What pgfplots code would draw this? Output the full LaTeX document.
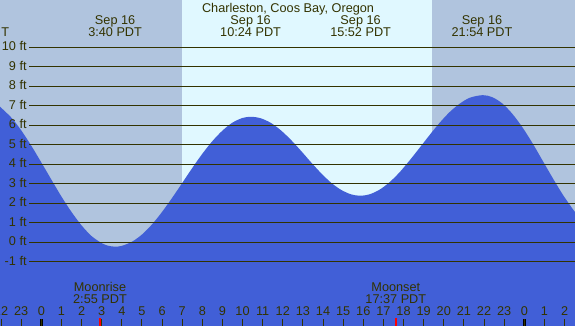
\documentclass[border=0pt]{standalone}
\usepackage{fontspec}
\setmainfont{Liberation Sans}
\usepackage{pgfplots}
\pgfplotsset{compat=1.18}
\definecolor{night}{RGB}{176,196,222}
\definecolor{day}{RGB}{224,248,255}
\definecolor{water}{RGB}{65,95,215}
\definecolor{ink}{RGB}{51,51,0}
\newcommand{\tf}{\fontsize{12.7}{14}\selectfont}
\tikzset{txt/.style={font=\tf, text=ink, inner sep=0pt, anchor=base}}
\begin{document}
\begin{tikzpicture}
\begin{axis}[
  scale only axis, width=575pt, height=326pt,
  xmin=-2.052, xmax=26.52, ymin=-4.29, ymax=12.43,
  axis line style={draw=none},
  xtick={-2,...,26},
  xticklabels={22,23,0,1,2,3,4,5,6,7,8,9,10,11,12,13,14,15,16,17,18,19,20,21,22,23,0,1,2},
  ytick=\empty,
  tick align=inside, xtick pos=bottom, major tick length=7pt,
  tick style={ink, line width=1pt},
  xticklabel style={anchor=base, yshift=10pt, font=\tf, text=ink, inner sep=0pt},
  axis on top=true, clip=true,
]
% night / day background
\addplot[draw=none, fill=night] coordinates {(-2.1,-5)(-2.1,13)(6.99,13)(6.99,-5)} -- cycle;
\addplot[draw=none, fill=day] coordinates {(6.99,-5)(6.99,13)(19.41,13)(19.41,-5)} -- cycle;
\addplot[draw=none, fill=night] coordinates {(19.41,-5)(19.41,13)(26.6,13)(26.6,-5)} -- cycle;
% tide curve (height in ft against hour of Sep 16)
\addplot[draw=none, fill=water, smooth] coordinates {
(-2.1,7.0)(-1.5,6.41)(-1.0,5.75)(-0.5,4.96)(0,4.10)(0.5,3.22)(1.0,2.35)(1.5,1.56)
(2.0,0.87)(2.5,0.32)(3.0,-0.04)(3.33,-0.175)(3.66,-0.22)(4.0,-0.18)(4.5,0.03)
(5.0,0.40)(5.5,0.92)(6.0,1.56)(6.5,2.28)(7.0,3.04)(7.5,3.81)(8.0,4.54)(8.5,5.19)
(9.0,5.73)(9.5,6.14)(10.0,6.38)(10.43,6.44)(10.9,6.365)(11.4,6.13)(11.9,5.75)
(12.4,5.26)(12.9,4.70)(13.4,4.11)(13.9,3.55)(14.4,3.06)(14.9,2.69)(15.4,2.46)
(15.85,2.39)(16.3,2.46)(16.8,2.695)(17.3,3.08)(17.8,3.59)(18.3,4.20)(18.8,4.85)
(19.3,5.51)(19.8,6.14)(20.3,6.69)(20.8,7.12)(21.3,7.42)(21.93,7.55)(22.4,7.45)
(22.9,7.13)(23.4,6.60)(23.9,5.91)(24.4,5.10)(24.9,4.21)(25.4,3.32)(25.9,2.47)
(26.4,1.72)(26.6,1.46)
} -- (axis cs:26.6,-5) -- (axis cs:-2.1,-5) -- cycle;
% grid lines
\pgfplotsinvokeforeach{-1,...,10}{
  \addplot[ink, line width=1pt] coordinates {(-0.611,#1)(26.6,#1)};
  \node[txt, anchor=base east] at (axis cs:-0.72,#1-0.175) {#1 ft};
}
% midnight and moon ticks
\addplot[black, line width=3pt] coordinates {(0,-4.29)(0,-3.93)};
\addplot[black, line width=3pt] coordinates {(24,-4.29)(24,-3.93)};
\addplot[red, line width=2pt] coordinates {(2.917,-4.29)(2.917,-3.88)};
\addplot[red, line width=2pt] coordinates {(17.617,-4.29)(17.617,-3.88)};
% texts
\node[txt] at (axis cs:12.26,11.81) {Charleston, Coos Bay, Oregon};
\node[txt, anchor=base west] at (axis cs:-1.99,10.57) {T};
\node[txt] at (axis cs:3.667,11.19) {Sep 16};
\node[txt] at (axis cs:3.667,10.57) {3:40 PDT};
\node[txt] at (axis cs:10.4,11.19) {Sep 16};
\node[txt] at (axis cs:10.4,10.57) {10:24 PDT};
\node[txt] at (axis cs:15.867,11.19) {Sep 16};
\node[txt] at (axis cs:15.867,10.57) {15:52 PDT};
\node[txt] at (axis cs:21.9,11.19) {Sep 16};
\node[txt] at (axis cs:21.9,10.57) {21:54 PDT};
\node[txt] at (axis cs:2.917,-2.53) {Moonrise};
\node[txt] at (axis cs:2.917,-3.15) {2:55 PDT};
\node[txt] at (axis cs:17.617,-2.53) {Moonset};
\node[txt] at (axis cs:17.617,-3.15) {17:37 PDT};
\end{axis}
\pgfresetboundingbox
\path[use as bounding box] (current axis.south west) rectangle (current axis.north east);
\end{tikzpicture}
\end{document}
